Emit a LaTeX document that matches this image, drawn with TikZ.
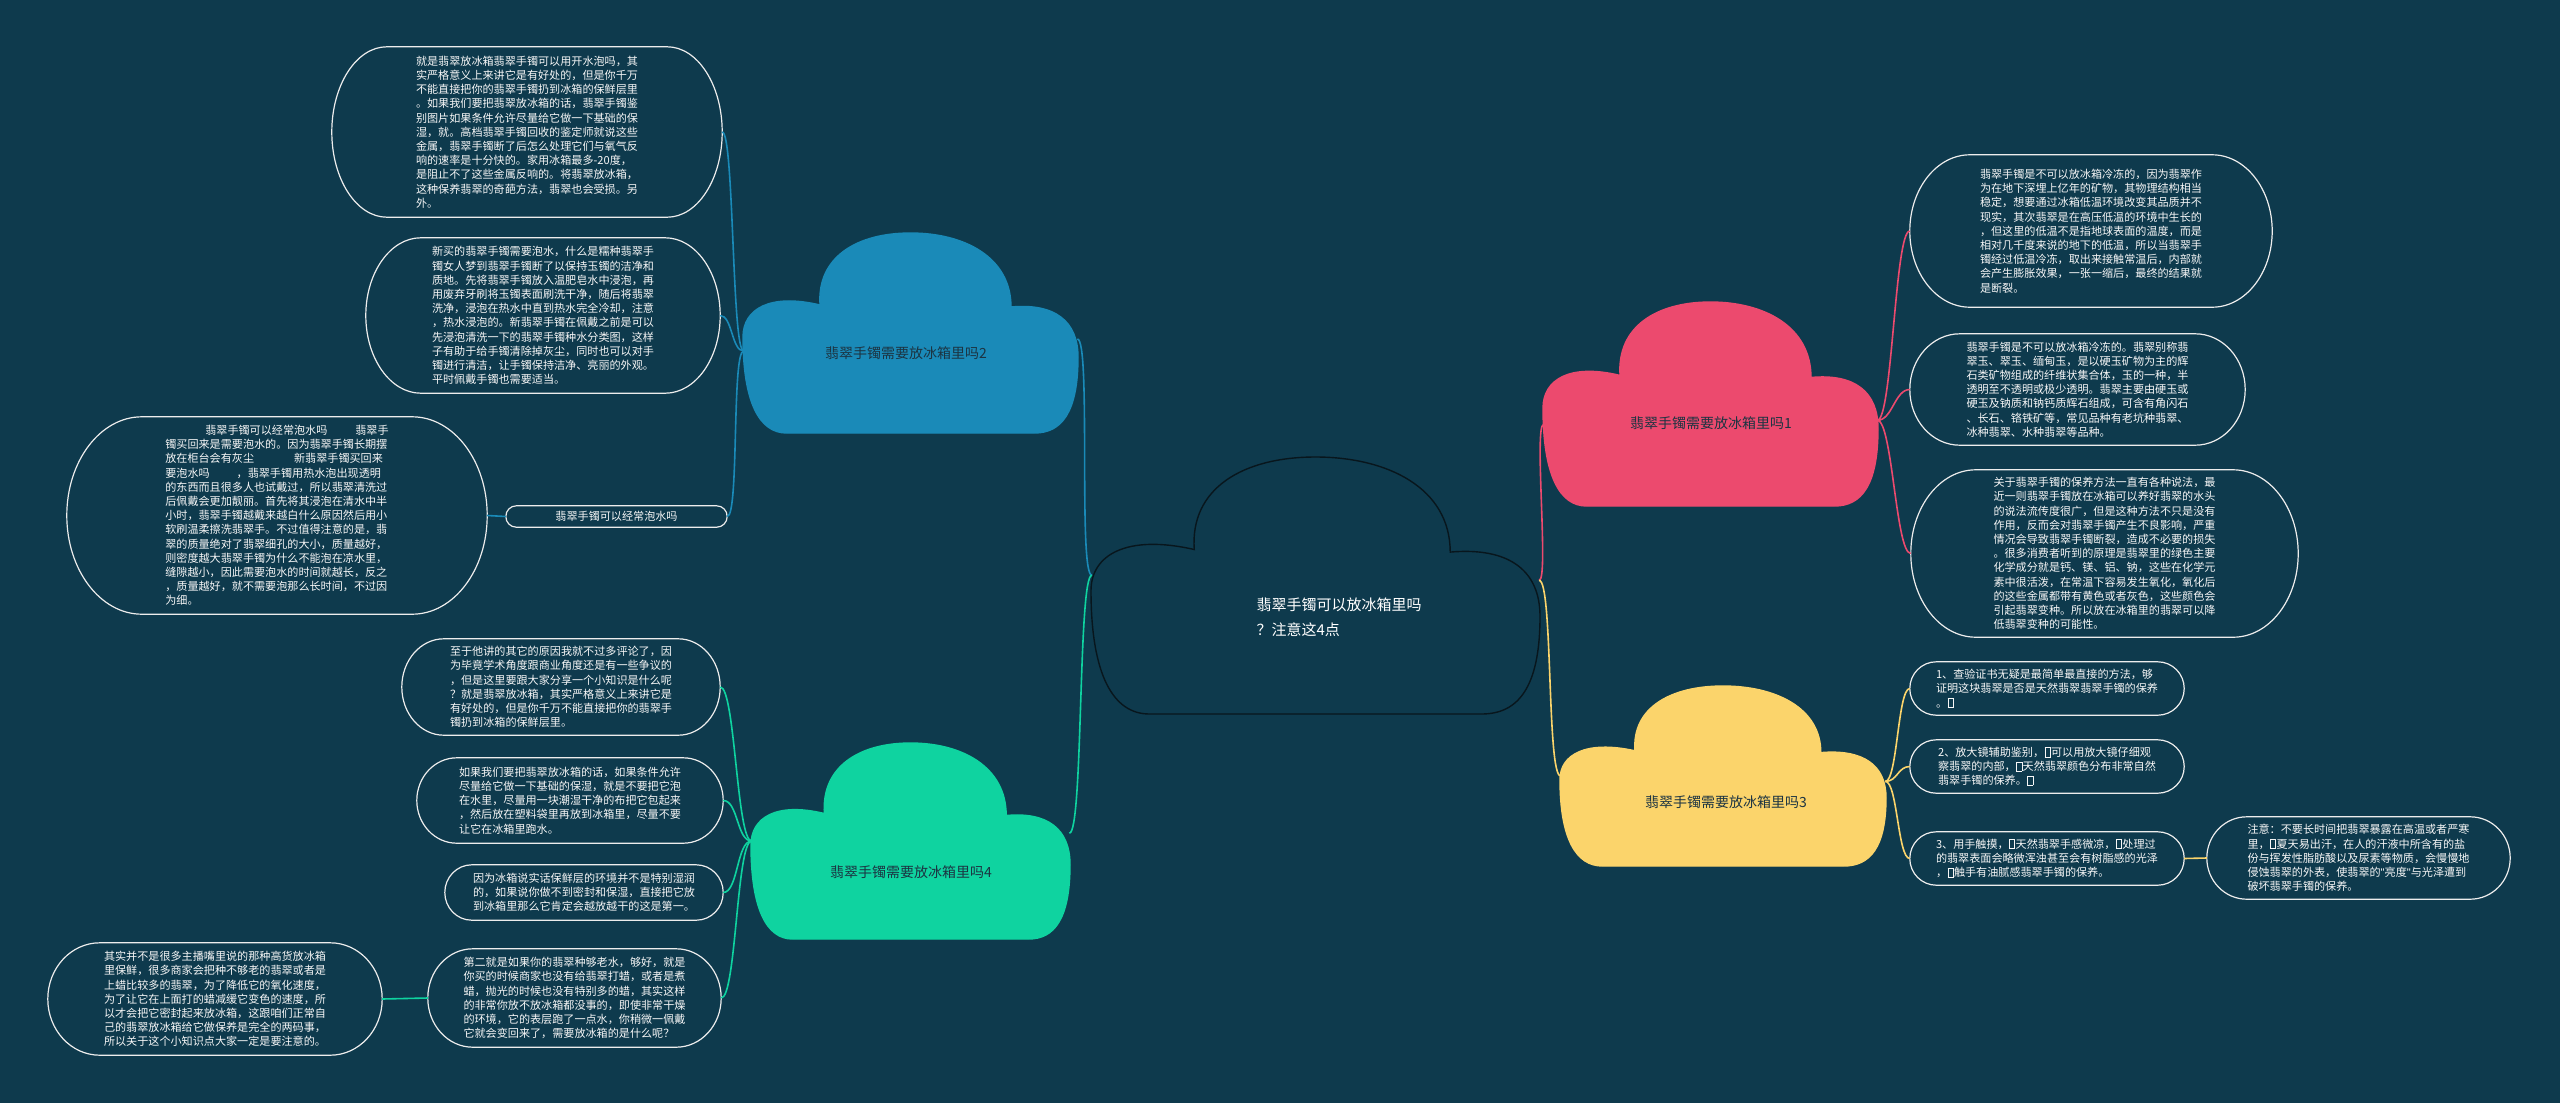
\documentclass[tikz,border=0pt]{standalone}
\usepackage{fontspec}
\setmainfont{Noto Sans CJK SC}
\newfontfamily\latinq{Liberation Sans}
\usetikzlibrary{calc}
\definecolor{bg}{HTML}{0E3A4D}
\definecolor{cblue}{HTML}{1A8AB8}
\definecolor{cpink}{HTML}{EC4A6E}
\definecolor{cyel}{HTML}{FBD46B}
\definecolor{cgreen}{HTML}{0FD3A0}
\definecolor{ctxt}{HTML}{1C3442}
\definecolor{leafc}{HTML}{EDEDED}
\definecolor{leaftxt}{HTML}{F7F7F7}
\definecolor{cedge}{HTML}{08161D}
\newcommand\tofu{\kern0.5pt{\setlength\fboxsep{0pt}\setlength\fboxrule{0.7pt}\fbox{\rule{0pt}{8.5pt}\hspace{4.5pt}}}\kern0.5pt}
\newcommand\sq{{\latinq\symbol{34}}}
% #1 fill, #2 draw, #3 x0, #4 y0, #5 w, #6 h, #7 name, #8 v left, #9 v right
\newcommand\mycloud[9]{%
\begin{scope}[shift={(#3,-#4)},xscale=#5,yscale=-#6]
\filldraw[fill=#1,draw=#2,line width=1.4pt]
 (0.13,1) -- (0.87,1)
 .. controls (0.95,1) and (1,0.9) .. (1,0.62)
 .. controls (1,0.44) and (0.93,0.35) .. (0.8,0.37)
 .. controls (0.8,0.12) and (0.66,0) .. (0.5,0)
 .. controls (0.34,0) and (0.22,0.12) .. (0.23,0.36)
 .. controls (0.08,0.3) and (0,0.38) .. (0,0.52)
 .. controls (0,0.85) and (0.05,1) .. (0.13,1) -- cycle;
\coordinate (#7L) at (0.002,#8);
\coordinate (#7R) at (0.998,#9);
\end{scope}}
\newcommand\pill[2]{\draw[leafline] let \p1=(#1.north), \p2=(#1.south), \n1={(\y1-\y2)/2} in
 ([xshift=#2 pt]#1.north west) -- ([xshift=-#2 pt]#1.north east)
 arc[start angle=90,end angle=-90,x radius=#2pt,y radius=\n1]
 -- ([xshift=#2 pt]#1.south west)
 arc[start angle=270,end angle=90,x radius=#2pt,y radius=\n1] -- cycle;}
\begin{document}
\begin{tikzpicture}[x=1pt,y=1pt,
 leaf/.style={inner sep=0pt, align=left, text=leaftxt, font=\fontsize{11.1}{14.2}\selectfont},
 leafline/.style={draw=leafc, line width=1.2pt},
 ctext/.style={text=ctxt, font=\fontsize{14}{18}\selectfont},
 lb/.style={draw=cblue, line width=1.6pt},
 lp/.style={draw=cpink, line width=1.6pt},
 ly/.style={draw=cyel, line width=1.6pt},
 lg/.style={draw=cgreen, line width=1.6pt}]
\fill[bg] (0,0) rectangle (2560,-1103);
\useasboundingbox (0,0) rectangle (2560,-1103);

% clouds
\mycloud{bg}{cedge}{1091}{457}{449}{257}{c0}{0.46}{0.48}
\mycloud{cblue}{cblue}{743}{233}{335}{200}{c2}{0.59}{0.53}
\mycloud{cgreen}{cgreen}{751}{743}{319}{196}{c4}{0.5}{0.46}
\mycloud{cpink}{cpink}{1543}{302}{335}{204}{c1}{0.6}{0.58}
\mycloud{cyel}{cyel}{1560}{686}{326}{180}{c3}{0.5}{0.53}

\node[text=white, align=left, font=\fontsize{15}{25}\selectfont] (ctr) at (1339,-617) {翡翠手镯可以放冰箱里吗\\？注意这4点};
\node[ctext] (t2) at (906,-353) {翡翠手镯需要放冰箱里吗2};
\node[ctext] (t1) at (1711,-423) {翡翠手镯需要放冰箱里吗1};
\node[ctext] (t3) at (1726,-802) {翡翠手镯需要放冰箱里吗3};
\node[ctext] (t4) at (911,-872) {翡翠手镯需要放冰箱里吗4};

% leaves of cloud 2
\node[leaf, minimum width=390pt, minimum height=170pt] (lA) at (527,-132) {就是翡翠放冰箱翡翠手镯可以用开水泡吗，其\\实严格意义上来讲它是有好处的，但是你千万\\不能直接把你的翡翠手镯扔到冰箱的保鲜层里\\。如果我们要把翡翠放冰箱的话，翡翠手镯鉴\\别图片如果条件允许尽量给它做一下基础的保\\湿，就。高档翡翠手镯回收的鉴定师就说这些\\金属，翡翠手镯断了后怎么处理它们与氧气反\\响的速率是十分快的。家用冰箱最多-20度，\\是阻止不了这些金属反响的。将翡翠放冰箱，\\这种保养翡翠的奇葩方法，翡翠也会受损。另\\外。};
\pill{lA}{55}
\node[leaf, minimum width=354pt, minimum height=155pt] (lB) at (543,-315.5) {新买的翡翠手镯需要泡水，什么是糯种翡翠手\\镯女人梦到翡翠手镯断了以保持玉镯的洁净和\\质地。先将翡翠手镯放入温肥皂水中浸泡，再\\用废弃牙刷将玉镯表面刷洗干净，随后将翡翠\\洗净，浸泡在热水中直到热水完全冷却，注意\\，热水浸泡的。新翡翠手镯在佩戴之前是可以\\先浸泡清洗一下的翡翠手镯种水分类图，这样\\子有助于给手镯清除掉灰尘，同时也可以对手\\镯进行清洁，让手镯保持洁净、亮丽的外观。\\平时佩戴手镯也需要适当。};
\pill{lB}{55}
\node[leaf, align=center, minimum width=221pt, minimum height=21pt] (lC) at (616.5,-516.5) {翡翠手镯可以经常泡水吗};
\pill{lC}{10.5}
\node[leaf, minimum width=420pt, minimum height=197pt] (lD) at (277,-515.5) {\hspace*{40pt}翡翠手镯可以经常泡水吗\hspace{28pt}翡翠手\\镯买回来是需要泡水的。因为翡翠手镯长期摆\\放在柜台会有灰尘\hspace{40pt}新翡翠手镯买回来\\要泡水吗\hspace{27pt}，翡翠手镯用热水泡出现透明\\的东西而且很多人也试戴过，所以翡翠清洗过\\后佩戴会更加靓丽。首先将其浸泡在清水中半\\小时，翡翠手镯越戴来越白什么原因然后用小\\软刷温柔擦洗翡翠手。不过值得注意的是，翡\\翠的质量绝对了翡翠细孔的大小，质量越好，\\则密度越大翡翠手镯为什么不能泡在凉水里，\\缝隙越小，因此需要泡水的时间就越长，反之\\，质量越好，就不需要泡那么长时间，不过因\\为细。};
\pill{lD}{75}

% leaves of cloud 4
\node[leaf, minimum width=318pt, minimum height=96pt] (lE) at (561,-687) {至于他讲的其它的原因我就不过多评论了，因\\为毕竟学术角度跟商业角度还是有一些争议的\\，但是这里要跟大家分享一个小知识是什么呢\\？就是翡翠放冰箱，其实严格意义上来讲它是\\有好处的，但是你千万不能直接把你的翡翠手\\镯扔到冰箱的保鲜层里。};
\pill{lE}{42}
\node[leaf, minimum width=306pt, minimum height=85pt] (lF) at (570,-800.5) {如果我们要把翡翠放冰箱的话，如果条件允许\\尽量给它做一下基础的保湿，就是不要把它泡\\在水里，尽量用一块潮湿干净的布把它包起来\\，然后放在塑料袋里再放到冰箱里，尽量不要\\让它在冰箱里跑水。};
\pill{lF}{40}
\node[leaf, minimum width=278pt, minimum height=55pt] (lG) at (584,-892.5) {因为冰箱说实话保鲜层的环境并不是特别湿润\\的，如果说你做不到密封和保湿，直接把它放\\到冰箱里那么它肯定会越放越干的这是第一。};
\pill{lG}{27}
\node[leaf, minimum width=293pt, minimum height=98pt] (lH) at (574.5,-998) {第二就是如果你的翡翠种够老水，够好，就是\\你买的时候商家也没有给翡翠打蜡，或者是煮\\蜡，抛光的时候也没有特别多的蜡，其实这样\\的非常你放不放冰箱都没事的，即使非常干燥\\的环境，它的表层跑了一点水，你稍微一佩戴\\它就会变回来了，需要放冰箱的是什么呢？};
\pill{lH}{45}
\node[leaf, minimum width=334pt, minimum height=112pt] (lI) at (215,-999) {其实并不是很多主播嘴里说的那种高货放冰箱\\里保鲜，很多商家会把种不够老的翡翠或者是\\上蜡比较多的翡翠，为了降低它的氧化速度，\\为了让它在上面打的蜡减缓它变色的速度，所\\以才会把它密封起来放冰箱，这跟咱们正常自\\己的翡翠放冰箱给它做保养是完全的两码事，\\所以关于这个小知识点大家一定是要注意的。};
\pill{lI}{52}

% leaves of cloud 1
\node[leaf, minimum width=362pt, minimum height=152pt] (lJ) at (2091,-231) {翡翠手镯是不可以放冰箱冷冻的，因为翡翠作\\为在地下深埋上亿年的矿物，其物理结构相当\\稳定，想要通过冰箱低温环境改变其品质并不\\现实，其次翡翠是在高压低温的环境中生长的\\，但这里的低温不是指地球表面的温度，而是\\相对几千度来说的地下的低温，所以当翡翠手\\镯经过低温冷冻，取出来接触常温后，内部就\\会产生膨胀效果，一张一缩后，最终的结果就\\是断裂。};
\pill{lJ}{60}
\node[leaf, minimum width=335pt, minimum height=111pt] (lK) at (2077.5,-389.5) {翡翠手镯是不可以放冰箱冷冻的。翡翠别称翡\\翠玉、翠玉、缅甸玉，是以硬玉矿物为主的辉\\石类矿物组成的纤维状集合体，玉的一种，半\\透明至不透明或极少透明。翡翠主要由硬玉或\\硬玉及钠质和钠钙质辉石组成，可含有角闪石\\、长石、铬铁矿等，常见品种有老坑种翡翠、\\冰种翡翠、水种翡翠等品种。};
\pill{lK}{50}
\node[leaf, minimum width=387pt, minimum height=167pt] (lL) at (2104.5,-553.5) {关于翡翠手镯的保养方法一直有各种说法，最\\近一则翡翠手镯放在冰箱可以养好翡翠的水头\\的说法流传度很广，但是这种方法不只是没有\\作用，反而会对翡翠手镯产生不良影响，严重\\情况会导致翡翠手镯断裂，造成不必要的损失\\。很多消费者听到的原理是翡翠里的绿色主要\\化学成分就是钙、镁、铝、钠，这些在化学元\\素中很活泼，在常温下容易发生氧化，氧化后\\的这些金属都带有黄色或者灰色，这些颜色会\\引起翡翠变种。所以放在冰箱里的翡翠可以降\\低翡翠变种的可能性。};
\pill{lL}{65}

% leaves of cloud 3
\node[leaf, minimum width=274pt, minimum height=53pt] (lM) at (2047,-688.5) {1、查验证书无疑是最简单最直接的方法，够\\证明这块翡翠是否是天然翡翠翡翠手镯的保养\\。\tofu};
\pill{lM}{26.5}
\node[leaf, minimum width=274pt, minimum height=53pt] (lN) at (2047,-766.5) {2、放大镜辅助鉴别，\tofu 可以用放大镜仔细观\\察翡翠的内部，\tofu 天然翡翠颜色分布非常自然\\翡翠手镯的保养。\tofu};
\pill{lN}{26.5}
\node[leaf, minimum width=274pt, minimum height=53pt] (lO) at (2047,-858.5) {3、用手触摸，\tofu 天然翡翠手感微凉，\tofu 处理过\\的翡翠表面会略微浑浊甚至会有树脂感的光泽\\，\tofu 触手有油腻感翡翠手镯的保养。};
\pill{lO}{26.5}
\node[leaf, minimum width=303pt, minimum height=82pt] (lP) at (2358.5,-858) {注意：不要长时间把翡翠暴露在高温或者严寒\\里，\tofu 夏天易出汗，在人的汗液中所含有的盐\\份与挥发性脂肪酸以及尿素等物质，会慢慢地\\侵蚀翡翠的外表，使翡翠的\sq 亮度\sq 与光泽遭到\\破坏翡翠手镯的保养。};
\pill{lP}{40}

% connectors: center to clouds
\draw[lb] (c0L) .. controls +(-14,0) and +(14,0) .. (c2R);
\draw[lg] (c0L) .. controls +(-14,0) and +(14,0) .. (c4R);
\draw[lp] (c0R) .. controls +(10,0) and +(-10,0) .. (c1L);
\draw[ly] (c0R) .. controls +(14,0) and +(-14,0) .. (c3L);

% cloud 2 children
\draw[lb] (c2L) .. controls +(-12,0) and +(12,0) .. (lA.east);
\draw[lb] (c2L) .. controls +(-12,0) and +(12,0) .. (lB.east);
\draw[lb] (c2L) .. controls +(-12,0) and +(12,0) .. (lC.east);
\draw[lb] (lC.west) -- (lD.east);

% cloud 4 children
\draw[lg] (c4L) .. controls +(-15,0) and +(15,0) .. (lE.east);
\draw[lg] (c4L) .. controls +(-15,0) and +(15,0) .. (lF.east);
\draw[lg] (c4L) .. controls +(-15,0) and +(15,0) .. (lG.east);
\draw[lg] (c4L) .. controls +(-15,0) and +(15,0) .. (lH.east);
\draw[lg] (lH.west) -- (lI.east);

% cloud 1 children
\draw[lp] (c1R) .. controls +(15,0) and +(-15,0) .. (lJ.west);
\draw[lp] (c1R) .. controls +(15,0) and +(-15,0) .. (lK.west);
\draw[lp] (c1R) .. controls +(15,0) and +(-15,0) .. (lL.west);

% cloud 3 children
\draw[ly] (c3R) .. controls +(12,0) and +(-12,0) .. (lM.west);
\draw[ly] (c3R) .. controls +(12,0) and +(-12,0) .. (lN.west);
\draw[ly] (c3R) .. controls +(12,0) and +(-12,0) .. (lO.west);
\draw[ly] (lO.east) -- (lP.west);
\end{tikzpicture}
\end{document}
